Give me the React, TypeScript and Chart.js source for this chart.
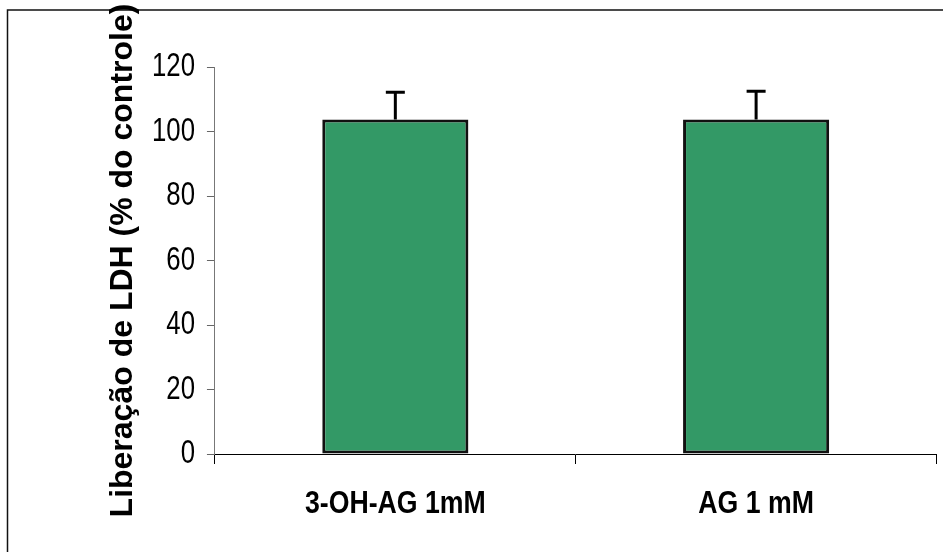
import React, { useEffect, useRef } from "react";
import { Chart, registerables } from "chart.js";

Chart.register(...registerables);

const categories = ["3-OH-AG 1mM", "AG 1 mM"];
const values = [103.7, 103.7];
const errors = [8.5, 8.8];
const yTitle = "Liberação de LDH (% do controle)";
const yMin = 0;
const yMax = 120;
const yStep = 20;

// Tick fonts carry a "Helvetica" marker so that they can be drawn narrower (Arial Narrow look)
const TICK_FAMILY = "'Liberation Sans', Arial, Helvetica";
const TITLE_FAMILY = "'Liberation Sans', Arial, sans-serif";

function narrowFactor(font: string): number {
  if (font.indexOf("Helvetica") < 0) return 1;
  return font.indexOf("bold") >= 0 || font.indexOf("700") >= 0 ? 0.86 : 0.78;
}

const framePlugin = {
  id: "frame",
  beforeDraw(chart: any) {
    const ctx = chart.ctx;
    ctx.save();
    ctx.strokeStyle = "#111";
    ctx.lineWidth = 1.5;
    ctx.beginPath();
    ctx.moveTo(7.5, chart.height + 5);
    ctx.lineTo(7.5, 10);
    ctx.lineTo(chart.width + 5, 10);
    ctx.stroke();
    ctx.restore();
  },
};

const narrowTextPlugin = {
  id: "narrowText",
  beforeInit(chart: any) {
    const ctx = chart.ctx;
    if (ctx.__narrowPatched) return;
    ctx.__narrowPatched = true;
    const origFill = ctx.fillText.bind(ctx);
    const origMeasure = ctx.measureText.bind(ctx);
    ctx.fillText = (text: string, x: number, y: number, maxWidth?: number) => {
      const k = narrowFactor(String(ctx.font));
      if (k !== 1) {
        ctx.save();
        ctx.translate(x, y);
        ctx.scale(k, 1);
        origFill(text, 0, 0);
        ctx.restore();
      } else if (maxWidth !== undefined) {
        origFill(text, x, y, maxWidth);
      } else {
        origFill(text, x, y);
      }
    };
    ctx.measureText = (text: string) => {
      const m = origMeasure(text);
      const k = narrowFactor(String(ctx.font));
      if (k === 1) return m;
      return {
        width: m.width * k,
        actualBoundingBoxLeft: m.actualBoundingBoxLeft * k,
        actualBoundingBoxRight: m.actualBoundingBoxRight * k,
        actualBoundingBoxAscent: m.actualBoundingBoxAscent,
        actualBoundingBoxDescent: m.actualBoundingBoxDescent,
        fontBoundingBoxAscent: m.fontBoundingBoxAscent,
        fontBoundingBoxDescent: m.fontBoundingBoxDescent,
      };
    };
  },
};

const errorBarPlugin = {
  id: "errorBars",
  afterDatasetsDraw(chart: any) {
    const ctx = chart.ctx;
    const meta = chart.getDatasetMeta(0);
    const y = chart.scales.y;
    ctx.save();
    ctx.strokeStyle = "#000";
    ctx.lineWidth = 3;
    meta.data.forEach((bar: any, i: number) => {
      const top = y.getPixelForValue(values[i] + errors[i]);
      const base = y.getPixelForValue(values[i]);
      ctx.beginPath();
      ctx.moveTo(bar.x, base);
      ctx.lineTo(bar.x, top);
      ctx.moveTo(bar.x - 9.5, top);
      ctx.lineTo(bar.x + 9.5, top);
      ctx.stroke();
    });
    ctx.restore();
  },
};

export default function App() {
  const canvasRef = useRef<HTMLCanvasElement | null>(null);

  useEffect(() => {
    if (!canvasRef.current) return;
    const chart = new Chart(canvasRef.current, {
      type: "bar",
      data: {
        labels: categories,
        datasets: [
          {
            data: values,
            backgroundColor: "#339966",
            borderColor: "#111",
            borderWidth: 3,
            borderSkipped: false,
            barPercentage: 0.405,
            categoryPercentage: 1,
          },
        ],
      },
      options: {
        animation: false,
        responsive: true,
        maintainAspectRatio: false,
        layout: { padding: { left: 107, top: 67, right: 6.5, bottom: 6.8 } },
        plugins: {
          legend: { display: false },
          tooltip: { enabled: false },
        },
        scales: {
          x: {
            grid: {
              display: true,
              drawOnChartArea: false,
              drawTicks: true,
              tickLength: 10,
              tickColor: "#000",
              offset: true,
            },
            border: { display: true, color: "#000", width: 1 },
            ticks: {
              color: "#000",
              padding: 22,
              font: { family: TICK_FAMILY, size: 31, weight: "bold" },
            },
          },
          y: {
            min: yMin,
            max: yMax,
            grid: {
              display: true,
              drawOnChartArea: false,
              drawTicks: true,
              tickLength: 8,
              tickColor: "#666",
            },
            border: { display: true, color: "#777", width: 1 },
            ticks: {
              stepSize: yStep,
              color: "#000",
              padding: 12,
              font: { family: TICK_FAMILY, size: 33 },
            },
            title: {
              display: true,
              text: yTitle,
              color: "#000",
              padding: { top: 0, bottom: 1 },
              font: { family: TITLE_FAMILY, size: 32, weight: "bold", lineHeight: 1 },
            },
          },
        },
      },
      plugins: [narrowTextPlugin, framePlugin, errorBarPlugin],
    });
    return () => chart.destroy();
  }, []);

  return (
    <div style={{ position: "absolute", left: 0, top: 0, width: 943, height: 552, background: "#fff" }}>
      <canvas ref={canvasRef} />
    </div>
  );
}
